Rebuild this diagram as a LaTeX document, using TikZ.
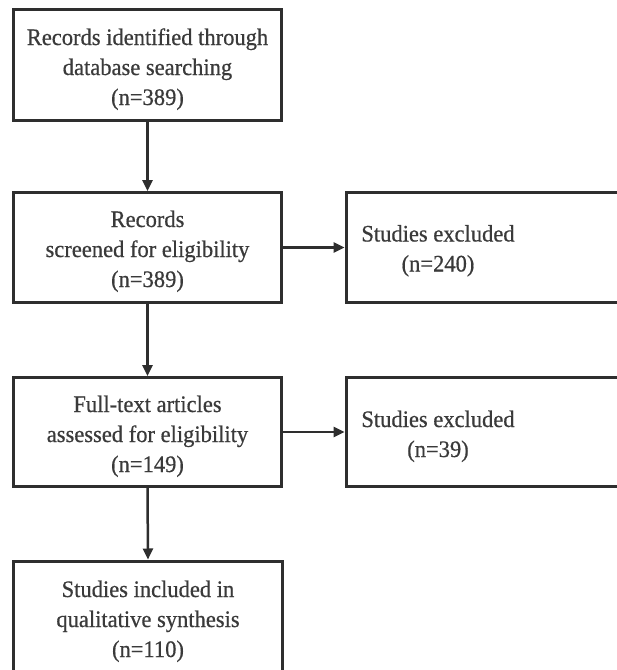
\documentclass[tikz,border=0pt]{standalone}
\usepackage{fontspec}
\setmainfont{Liberation Serif}[FakeBold=0.6]
\usetikzlibrary{arrows.meta}
\definecolor{linegray}{HTML}{2E2E2E}
\definecolor{textgray}{HTML}{3A3A3A}
\newcommand{\sqtext}[1]{\scalebox{0.95}[1]{\begin{tabular}{@{}c@{}}#1\end{tabular}}}
\begin{document}
\begin{tikzpicture}[x=1pt,y=-1pt,
  boxnode/.style={draw=linegray,line width=3pt,inner sep=0pt,fill=white},
  txt/.style={text=textgray,align=center,inner sep=0pt,font=\fontsize{23.7}{30}\selectfont},
  flow/.style={draw=linegray,line width=2.5pt,-{Triangle[length=11pt,width=10pt]}}]
\fill[white] (0,0) rectangle (617,670);
\path[use as bounding box,clip] (0,0) rectangle (617,670);
% boxes
\node[boxnode,minimum width=268pt,minimum height=111pt] (b1) at (147.5,65) {};
\node[boxnode,minimum width=268pt,minimum height=110pt] (b2) at (147.5,247.5) {};
\node[boxnode,minimum width=268pt,minimum height=109pt] (b3) at (147.5,432) {};
\node[boxnode,minimum width=269pt,minimum height=114pt] (b4) at (148,618) {};
\node[boxnode,minimum width=284pt,minimum height=110pt] (r2) at (488,247.5) {};
\node[boxnode,minimum width=284pt,minimum height=109pt] (r3) at (488,432) {};
% texts
\node[txt] (t1) at (147.5,69) {\sqtext{Records identified through\\database searching\\(n=389)}};
\node[txt] (t2) at (147.5,251) {\sqtext{Records\\screened for eligibility\\(n=389)}};
\node[txt] (t3) at (147.5,436) {\sqtext{Full-text articles\\assessed for eligibility\\(n=149)}};
\node[txt] (t4) at (148,621) {\sqtext{Studies included in\\qualitative synthesis\\(n=110)}};
\node[txt] (u2) at (438,250.5) {\sqtext{Studies excluded\\(n=240)}};
\node[txt] (u3) at (438,436) {\sqtext{Studies excluded\\(n=39)}};
% connectors
\draw[flow] (b1.south) -- (b2.north);
\draw[flow] (b2.south) -- (b3.north);
\draw[flow] (b3.south) -- (b4.north);
\draw[flow] (b2.east) -- (r2.west);
\draw[flow] (b3.east) -- (r3.west);
\end{tikzpicture}
\end{document}
